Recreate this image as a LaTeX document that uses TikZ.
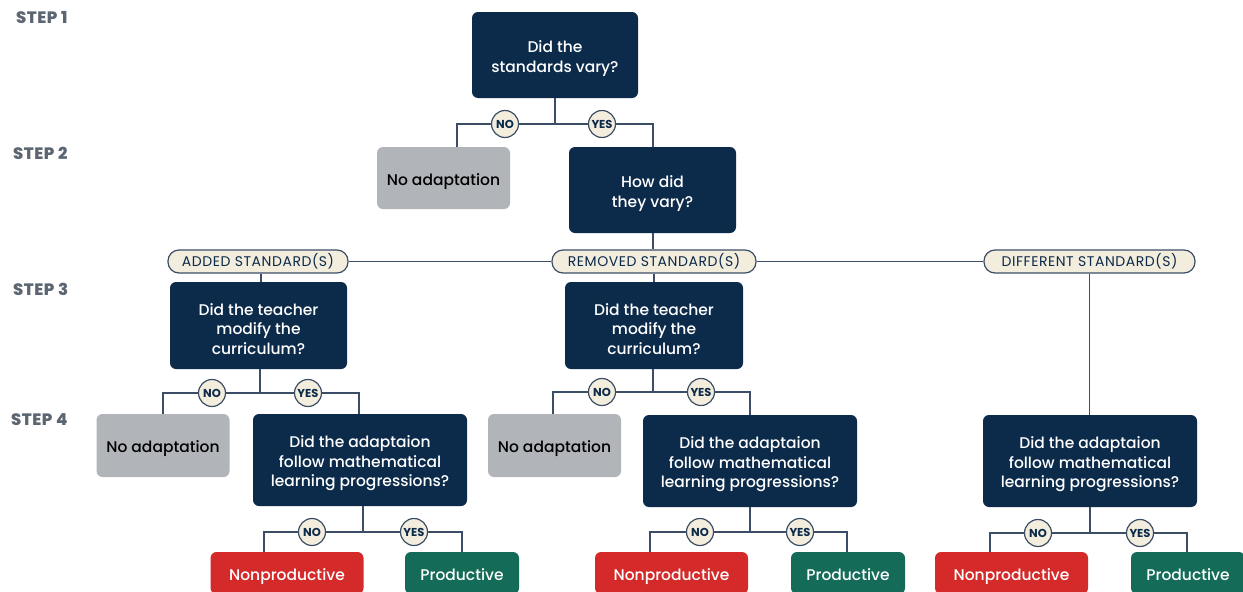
\documentclass[tikz,border=0pt]{standalone}
\usepackage{fontspec}
\setmainfont{Poppins}[UprightFont={* Medium}, BoldFont={* Bold}]
\newfontfamily\pillfont{Poppins}[LetterSpace=4]
\newfontfamily\stepfont{Poppins}[UprightFont={* ExtraBold}, LetterSpace=3]
\definecolor{navy}{HTML}{0C2A4A}
\definecolor{greybox}{HTML}{B1B5B9}
\definecolor{redbox}{HTML}{D42A2A}
\definecolor{greenbox}{HTML}{136B58}
\definecolor{cream}{HTML}{F3EDDD}
\definecolor{linkcol}{HTML}{3B4E66}
\definecolor{steplab}{HTML}{5C6670}
% tall invisible strut for the first line of a box, which sets its text a little lower
\newcommand{\firstline}{\rule{0pt}{19pt}}
% invisible descender, so a word without one sits like its neighbours
\newcommand{\lastdepth}{\rule[-4pt]{0pt}{4pt}}
\begin{document}
\begin{tikzpicture}[x=1pt,y=-1pt,
  box/.style={rectangle, rounded corners=6pt, inner sep=0pt, align=center},
  boxfont/.style={font=\fontsize{15.5}{19.5}\selectfont},
  question/.style={box, boxfont, fill=navy, text=white},
  noadapt/.style={box, boxfont, fill=greybox, text=black, minimum width=133pt, minimum height=62pt},
  nonprod/.style={box, boxfont, fill=redbox, text=white, minimum width=153pt, minimum height=42pt},
  prod/.style={box, boxfont, fill=greenbox, text=white, minimum width=114pt, minimum height=42pt},
  pill/.style={rectangle, rounded corners=11pt, draw=linkcol, line width=1.2pt, fill=cream, text=navy, minimum height=23pt, inner sep=0pt, font=\pillfont\fontsize{14}{16}\selectfont},
  answer/.style={circle, draw=linkcol, line width=1.2pt, fill=cream, text=navy, minimum size=27pt, inner sep=0pt, font=\bfseries\fontsize{11.5}{12}\selectfont},
  steplabel/.style={anchor=west, inner sep=0pt, text=steplab, font=\stepfont\fontsize{16.5}{18}\selectfont},
  link/.style={draw=linkcol, line width=1.3pt}
]
\clip (0,0) rectangle (1243,592);
\useasboundingbox (0,0) rectangle (1243,592);
\fill[white] (0,0) rectangle (1243,592);

% step labels
\node[steplabel] (s1) at (16,18) {STEP 1};
\node[steplabel] (s2) at (13,153) {STEP 2};
\node[steplabel] (s3) at (13,289) {STEP 3};
\node[steplabel] (s4) at (11,420) {STEP 4};

% step 1 and 2
\node[question, minimum width=166pt, minimum height=86pt] (q1) at (555,55) {\firstline Did the\\standards vary?};
\node[noadapt] (na1) at (443.5,178) {\firstline No adaptation};
\node[question, minimum width=167pt, minimum height=86pt] (q2) at (652.5,190) {\firstline How did\\they vary?};

% kinds of variation
\node[pill, minimum width=180pt] (added) at (258,261.5) {ADDED STANDARD(S)};
\node[pill, minimum width=204pt] (removed) at (654,261.5) {REMOVED STANDARD(S)};
\node[pill, minimum width=211pt] (different) at (1089.5,261.5) {DIFFERENT STANDARD(S)};

% step 3
\node[question, minimum width=177pt, minimum height=87pt] (q3a) at (258.5,325.5) {\firstline Did the teacher\\modify the\\curriculum?};
\node[question, minimum width=178pt, minimum height=87pt] (q3b) at (654,325.5) {\firstline Did the teacher\\modify the\\curriculum?};

% step 4
\node[noadapt, minimum height=63pt] (na2) at (163,445.5) {\firstline No adaptation};
\node[question, minimum width=214pt, minimum height=92pt] (q4a) at (360,460) {\firstline Did the adaptaion\\follow mathematical\\learning progressions?};
\node[noadapt, minimum height=63pt] (na3) at (554.5,445.5) {\firstline No adaptation};
\node[question, minimum width=214pt, minimum height=92pt] (q4b) at (750,461) {\firstline Did the adaptaion\\follow mathematical\\learning progressions?};
\node[question, minimum width=214pt, minimum height=92pt] (q4c) at (1090,461) {\firstline Did the adaptaion\\follow mathematical\\learning progressions?};

% outcomes
\node[nonprod] (np1) at (287,573) {\firstline Nonproductive};
\node[prod] (p1) at (462,573) {\firstline\lastdepth Productive};
\node[nonprod] (np2) at (671.5,573) {\firstline Nonproductive};
\node[prod] (p2) at (848,573) {\firstline\lastdepth Productive};
\node[nonprod] (np3) at (1011.5,573) {\firstline Nonproductive};
\node[prod] (p3) at (1188,573) {\firstline\lastdepth Productive};

% branch corners
\coordinate (a1) at (457,124);   \coordinate (b1) at (653,124);
\coordinate (a2) at (163,393);   \coordinate (b2) at (359,393);
\coordinate (a3) at (553,392);   \coordinate (b3) at (750,392);
\coordinate (a4) at (264,532);   \coordinate (b4) at (462,532);
\coordinate (a5) at (650,532);   \coordinate (b5) at (847,532);
\coordinate (a6) at (990,533);   \coordinate (b6) at (1187,533);

% connectors
\begin{scope}[link]
  \draw (q1.south) -- (q1.south |- a1);
  \draw (na1.north -| a1) |- (b1) -- (b1 |- q2.north);
  \draw (q2.south -| b1) -- (b1 |- removed.north);
  \draw (added.east) -- (removed.west);
  \draw (removed.east) -- (different.west);
  \draw (added.south -| 261,0) -- (q3a.north -| 261,0);
  \draw (removed.south) -- (q3b.north);
  \draw (different.south) -- (different.south |- q4c.north);
  \draw (q3a.south -| 260,0) -- (260,393);
  \draw (na2.north -| a2) |- (b2) -- (b2 |- q4a.north);
  \draw (q3b.south -| 653,0) -- (653,392);
  \draw (na3.north -| a3) |- (b3) -- (b3 |- q4b.north);
  \draw (q4a.south -| 363,0) -- (363,532);
  \draw (np1.north -| a4) |- (b4) -- (b4 |- p1.north);
  \draw (q4b.south) -- (q4b.south |- a5);
  \draw (np2.north -| a5) |- (b5) -- (b5 |- p2.north);
  \draw (q4c.south) -- (q4c.south |- a6);
  \draw (np3.north -| a6) |- (b6) -- (b6 |- p3.north);
\end{scope}

% yes / no markers
\node[answer] (n1) at (505,124) {NO};
\node[answer] (y1) at (602,124) {YES};
\node[answer] (n2) at (212,393) {NO};
\node[answer] (y2) at (308,393) {YES};
\node[answer] (n3) at (602,392) {NO};
\node[answer] (y3) at (701,392) {YES};
\node[answer] (n4) at (312,532) {NO};
\node[answer] (y4) at (414,532) {YES};
\node[answer] (n5) at (700,532) {NO};
\node[answer] (y5) at (800,532) {YES};
\node[answer] (n6) at (1038,533) {NO};
\node[answer] (y6) at (1140,533) {YES};
\end{tikzpicture}
\end{document}
